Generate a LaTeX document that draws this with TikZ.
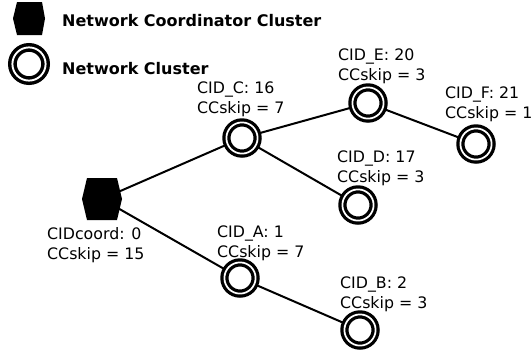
\documentclass[tikz,border=0pt]{standalone}
\usepackage{fontspec}
\setmainfont{DejaVu Sans}
\begin{document}
\begin{tikzpicture}[x=1pt,y=-1pt,
  cluster/.style={circle,draw=black,double=white,double distance=1.75pt,line width=3.25pt,minimum size=31.2pt,inner sep=0pt},
  legcluster/.style={circle,draw=black,double=white,double distance=1.9pt,line width=3.45pt,minimum size=33.2pt,inner sep=0pt},
  lbl/.style={anchor=base west,inner sep=0pt,font=\fontsize{15.8}{20}\selectfont},
  legtxt/.style={anchor=base west,inner sep=0pt,font=\fontsize{16}{20}\selectfont\bfseries},
  link/.style={line width=2pt}]
\clip (0,0) rectangle (532,354);
\fill[white] (0,0) rectangle (532,354);
% legend
\fill[black] (17,2) -- (42,2) -- (45,18.5) -- (42,35) -- (17,35) -- (13,18.5) -- cycle;
\node[legtxt] (legA) at (62,26) {Network Coordinator Cluster};
\node[legcluster] (legC) at (29,64) {};
\node[legtxt] (legB) at (62,74) {Network Cluster};
% nodes
\coordinate (hub) at (102,199);
\node[cluster] (C) at (242,138) {};
\node[cluster] (E) at (368,103) {};
\node[cluster] (F) at (476,144) {};
\node[cluster] (D) at (358,205) {};
\node[cluster] (A) at (240,278) {};
\node[cluster] (B) at (360,330) {};
% links
\draw[link] (hub) -- (C);
\draw[link] (hub) -- (A);
\draw[link] (C) -- (E);
\draw[link] (C) -- (D);
\draw[link] (E) -- (F);
\draw[link] (A) -- (B);
% coordinator hexagon
\fill[black] (87,178) -- (117,178) -- (122,199) -- (117,220) -- (87,220) -- (82,199) -- cycle;
% labels
\node[lbl] (hubL1) at (47,239) {CIDcoord: 0};
\node[lbl] (hubL2) at (47,259) {CCskip = 15};
\node[lbl] (CL1) at (197,93) {CID\_C: 16};
\node[lbl] (CL2) at (197,113) {CCskip = 7};
\node[lbl] (EL1) at (338,60) {CID\_E: 20};
\node[lbl] (EL2) at (338,80) {CCskip = 3};
\node[lbl] (FL1) at (445,98) {CID\_F: 21};
\node[lbl] (FL2) at (445,118) {CCskip = 1};
\node[lbl] (DL1) at (337,162) {CID\_D: 17};
\node[lbl] (DL2) at (337,182) {CCskip = 3};
\node[lbl] (AL1) at (217,237) {CID\_A: 1};
\node[lbl] (AL2) at (217,257) {CCskip = 7};
\node[lbl] (BL1) at (340,288) {CID\_B: 2};
\node[lbl] (BL2) at (340,308) {CCskip = 3};
\end{tikzpicture}
\end{document}
